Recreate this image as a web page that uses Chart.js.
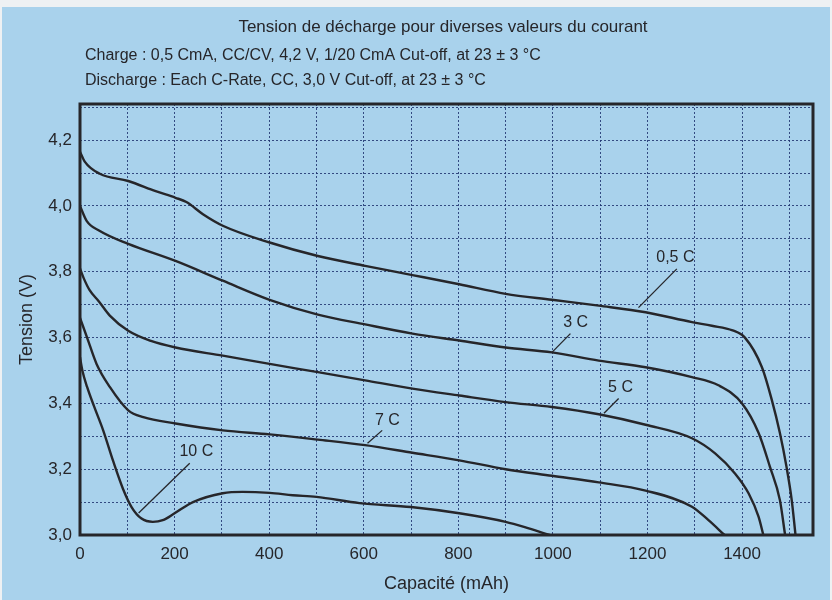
<!DOCTYPE html>
<html lang="fr">
<head>
<meta charset="UTF-8">
<title>Tension de décharge pour diverses valeurs du courant</title>
<script src="https://cdn.jsdelivr.net/npm/chart.js"></script>
<style>
    html, body { margin: 0; padding: 0; background: #eef1f3; }
    .panel { position: absolute; left: 2px; top: 7px; width: 828px; height: 593px; background: #a9d2ec; }
    .wrap { position: absolute; left: 0; top: 0; width: 832px; height: 600px; }
</style>
</head>
<body>
<div class="panel"></div>
<div class="wrap"><canvas id="chart" width="832" height="600"></canvas></div>
<script>
    // Textes
    const chartTitle = 'Tension de décharge pour diverses valeurs du courant';
    const subtitleLines = [
        'Charge : 0,5 CmA, CC/CV, 4,2 V, 1/20 CmA Cut-off, at 23 ± 3 °C',
        'Discharge : Each C-Rate, CC, 3,0 V Cut-off, at 23 ± 3 °C'
    ];

    // Graduations
    const xTicks = [0, 200, 400, 600, 800, 1000, 1200, 1400];
    const yTicks = [3.0, 3.2, 3.4, 3.6, 3.8, 4.0, 4.2];
    const yTickLabels = ['3,0', '3,2', '3,4', '3,6', '3,8', '4,0', '4,2'];

    // Courbes (capacité en mAh, tension en V)
    const cap05 = [0, 10, 42, 102, 160, 202, 225, 260, 302, 401, 503, 603, 703, 802, 900, 998, 1097, 1196, 1294, 1336, 1380, 1406, 1442, 1463, 1480, 1494, 1505, 1513];
    const volt05 = [4.165, 4.135, 4.098, 4.076, 4.045, 4.025, 4.012, 3.975, 3.94, 3.889, 3.848, 3.818, 3.79, 3.762, 3.733, 3.715, 3.697, 3.677, 3.647, 3.636, 3.622, 3.6, 3.51, 3.41, 3.31, 3.207, 3.106, 3.0];

    const cap3 = [0, 14, 42, 102, 202, 302, 401, 503, 603, 703, 802, 900, 998, 1097, 1196, 1294, 1350, 1400, 1435, 1459, 1480, 1491];
    const volt3 = [4.0, 3.955, 3.924, 3.885, 3.833, 3.773, 3.715, 3.67, 3.64, 3.612, 3.591, 3.57, 3.555, 3.53, 3.51, 3.48, 3.455, 3.40, 3.31, 3.207, 3.106, 3.0];

    const cap5 = [0, 8, 20, 40, 63, 102, 150, 202, 302, 401, 503, 603, 703, 802, 900, 998, 1097, 1196, 1294, 1343, 1385, 1414, 1435, 1445];
    const volt5 = [3.81, 3.78, 3.745, 3.71, 3.667, 3.621, 3.59, 3.57, 3.545, 3.52, 3.495, 3.47, 3.445, 3.424, 3.404, 3.389, 3.367, 3.335, 3.294, 3.248, 3.187, 3.126, 3.055, 3.0];

    const cap7 = [0, 15, 35, 63, 102, 134, 202, 302, 401, 503, 603, 703, 802, 900, 998, 1097, 1196, 1294, 1329, 1363];
    const volt7 = [3.66, 3.6, 3.52, 3.45, 3.379, 3.358, 3.339, 3.318, 3.306, 3.29, 3.273, 3.25, 3.227, 3.2, 3.18, 3.16, 3.135, 3.086, 3.045, 3.0];

    const cap10 = [0, 5, 15, 30, 49, 70, 91, 109, 130, 154, 175, 200, 239, 302, 344, 401, 450, 500, 591, 700, 802, 900, 949, 993];
    const volt10 = [3.54, 3.50, 3.45, 3.39, 3.318, 3.225, 3.14, 3.085, 3.05, 3.04, 3.045, 3.066, 3.10, 3.127, 3.131, 3.128, 3.121, 3.116, 3.097, 3.085, 3.066, 3.04, 3.02, 3.0];

    // Étiquettes des courbes et traits de rappel
    const curveNames = ['0,5 C', '3 C', '5 C', '7 C', '10 C'];
    const nameX = [1259, 1048, 1143, 650, 246];
    const nameY = [3.842, 3.646, 3.449, 3.348, 3.252];
    const leaderFromX = [1262, 1037, 1139, 639, 232];
    const leaderFromY = [3.809, 3.612, 3.415, 3.318, 3.218];
    const leaderToX = [1181, 998, 1108, 608, 124];
    const leaderToY = [3.691, 3.555, 3.37, 3.279, 3.067];

    const inkColor = '#26262a';
    const gridColor = 'rgba(30, 50, 110, 0.85)';
    const fontFamily = '"Liberation Sans", Arial, Helvetica, sans-serif';

    function toPoints(xs, ys) {
        return xs.map((x, i) => ({ x: x, y: ys[i] }));
    }

    function curve(label, xs, ys) {
        return {
            label: label,
            data: toPoints(xs, ys),
            borderColor: inkColor,
            borderWidth: 2.4,
            pointRadius: 0,
            fill: false,
            cubicInterpolationMode: 'monotone'
        };
    }

    // En-tête (titre + conditions)
    const headerPlugin = {
        id: 'header',
        afterDraw(chart) {
            const ctx = chart.ctx;
            ctx.save();
            ctx.fillStyle = inkColor;
            ctx.textBaseline = 'middle';
            ctx.font = '17px ' + fontFamily;
            ctx.textAlign = 'center';
            ctx.fillText(chartTitle, 443, 27);
            ctx.font = '16px ' + fontFamily;
            ctx.textAlign = 'left';
            subtitleLines.forEach((line, i) => ctx.fillText(line, 85, 56 + i * 25));
            ctx.restore();
        }
    };

    // Cadre du graphique et noms des courbes
    const framePlugin = {
        id: 'frame',
        afterDatasetsDraw(chart) {
            const ctx = chart.ctx;
            const xs = chart.scales.x;
            const ys = chart.scales.y;
            const a = chart.chartArea;
            ctx.save();
            ctx.strokeStyle = inkColor;
            ctx.lineWidth = 1.3;
            for (let i = 0; i < curveNames.length; i++) {
                ctx.beginPath();
                ctx.moveTo(xs.getPixelForValue(leaderFromX[i]), ys.getPixelForValue(leaderFromY[i]));
                ctx.lineTo(xs.getPixelForValue(leaderToX[i]), ys.getPixelForValue(leaderToY[i]));
                ctx.stroke();
            }
            ctx.fillStyle = inkColor;
            ctx.font = '16px ' + fontFamily;
            ctx.textAlign = 'center';
            ctx.textBaseline = 'middle';
            for (let i = 0; i < curveNames.length; i++) {
                ctx.fillText(curveNames[i], xs.getPixelForValue(nameX[i]), ys.getPixelForValue(nameY[i]));
            }
            ctx.lineWidth = 3;
            ctx.strokeRect(a.left, a.top, a.right - a.left, a.bottom - a.top);
            ctx.restore();
        }
    };

    new Chart(document.getElementById('chart'), {
        type: 'line',
        data: {
            datasets: [
                curve('0,5 C', cap05, volt05),
                curve('3 C', cap3, volt3),
                curve('5 C', cap5, volt5),
                curve('7 C', cap7, volt7),
                curve('10 C', cap10, volt10)
            ]
        },
        options: {
            responsive: false,
            animation: false,
            layout: { padding: { top: 104, right: 19, left: 0, bottom: 0 } },
            plugins: {
                legend: { display: false },
                tooltip: { enabled: false }
            },
            scales: {
                x: {
                    type: 'linear',
                    min: 0,
                    max: 1550,
                    afterFit: (scale) => { scale.height = 65; },
                    grid: { color: gridColor, lineWidth: 1, drawTicks: false },
                    border: { display: false, dash: [2, 2] },
                    ticks: {
                        stepSize: 100,
                        includeBounds: false,
                        autoSkip: false,
                        maxRotation: 0,
                        padding: 9,
                        color: inkColor,
                        font: { family: fontFamily, size: 17 },
                        callback: (value) => xTicks.includes(Math.round(value)) && Math.abs(value - Math.round(value)) < 1e-6 ? String(Math.round(value)) : ''
                    },
                    title: {
                        display: true,
                        text: 'Capacité (mAh)',
                        color: inkColor,
                        font: { family: fontFamily, size: 18 },
                        padding: { top: 0, bottom: 5 }
                    }
                },
                y: {
                    type: 'linear',
                    min: 3.0,
                    max: 4.31,
                    afterFit: (scale) => { scale.width = 80; },
                    grid: { color: gridColor, lineWidth: 1, drawTicks: false },
                    border: { display: false, dash: [2, 2] },
                    ticks: {
                        stepSize: 0.1,
                        includeBounds: false,
                        autoSkip: false,
                        padding: 8,
                        color: inkColor,
                        font: { family: fontFamily, size: 17 },
                        callback: (value) => {
                            const i = yTicks.findIndex(v => Math.abs(v - value) < 1e-6);
                            return i >= 0 ? yTickLabels[i] : '';
                        }
                    },
                    title: {
                        display: true,
                        text: 'Tension (V)',
                        color: inkColor,
                        font: { family: fontFamily, size: 18 },
                        padding: { top: 16, bottom: 0 }
                    }
                }
            }
        },
        plugins: [headerPlugin, framePlugin]
    });
</script>
</body>
</html>
